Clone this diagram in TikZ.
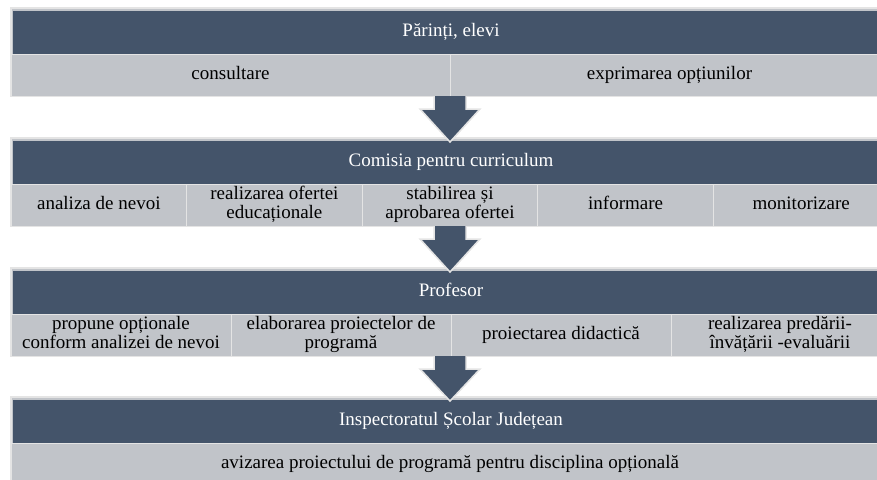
\documentclass[tikz,border=0pt]{standalone}
\usepackage{fontspec}
\newfontfamily\tnr{LiberationSerif}[Extension=.ttf, UprightFont=*-Regular]
\usetikzlibrary{calc}
\definecolor{dark}{HTML}{44546A}
\definecolor{lite}{HTML}{C1C4C9}
\definecolor{edge}{HTML}{E4E4E4}
\begin{document}
\begin{tikzpicture}[x=1pt,y=-1pt,
  every node/.style={inner sep=0pt, outer sep=0pt, font=\tnr\fontsize{19}{19.5}\selectfont},
  rowbox/.style={draw=edge, line width=1.5pt, fill=lite, anchor=north west, minimum width=878pt, minimum height=88pt},
  headbox/.style={fill=dark, text=white, anchor=north west, minimum width=876pt, minimum height=43.5pt, execute at begin node=\strut},
  cellbox/.style={draw=edge, line width=1pt, fill=lite, anchor=north west, minimum height=41.5pt, align=center, execute at begin node=\strut}]
\tikzset{blockarrow/.style={fill=dark, draw=edge, line width=1.5pt, line join=miter}}
\useasboundingbox (0,0) rectangle (877,479);
% Row 1
\node[rowbox] (r1) at (11,8) {};
\node[headbox] (h1) at (13,11) {Părinți, elevi};
\node[cellbox, minimum width=439pt] (c11) at (11,54.5) {consultare};
\node[cellbox, minimum width=439pt] (c12) at (450,54.5) {exprimarea opțiunilor};
% Row 2
\node[rowbox] (r2) at (11,138) {};
\node[headbox] (h2) at (13,141) {Comisia pentru curriculum};
\node[cellbox, minimum width=175.6pt] (c21) at (11,184.5) {analiza de nevoi};
\node[cellbox, minimum width=175.6pt] (c22) at (186.6,184.5) {realizarea ofertei\\educaționale\strut};
\node[cellbox, minimum width=175.6pt] (c23) at (362.2,184.5) {stabilirea și\\aprobarea ofertei\strut};
\node[cellbox, minimum width=175.6pt] (c24) at (537.8,184.5) {informare};
\node[cellbox, minimum width=175.6pt] (c25) at (713.4,184.5) {monitorizare};
% Row 3
\node[rowbox] (r3) at (11,268) {};
\node[headbox] (h3) at (13,271) {Profesor};
\node[cellbox, minimum width=220pt] (c31) at (11,314.5) {propune opționale\\conform analizei de nevoi\strut};
\node[cellbox, minimum width=220pt] (c32) at (231,314.5) {elaborarea proiectelor de\\programă\strut};
\node[cellbox, minimum width=220pt] (c33) at (451,314.5) {proiectarea didactică};
\node[cellbox, minimum width=218pt] (c34) at (671,314.5) {realizarea predării-\\învățării -evaluării\strut};
% Row 4
\node[rowbox] (r4) at (11,397) {};
\node[headbox] (h4) at (13,400) {Inspectoratul Școlar Județean};
\node[cellbox, minimum width=878pt] (c41) at (11,443.5) {avizarea proiectului de programă pentru disciplina opțională};
% Arrows
\draw[blockarrow] ($(r1.south)+(-16,0)$) -- ++(0,13) -- ++(-14,0) -- ($(r1.south |- h2.north)+(0,1)$) -- ($(r1.south)+(30,13)$) -- ++(-14,0) -- ++(0,-13);
\draw[blockarrow] ($(r2.south)+(-16,0)$) -- ++(0,13) -- ++(-14,0) -- ($(r2.south |- h3.north)+(0,1)$) -- ($(r2.south)+(30,13)$) -- ++(-14,0) -- ++(0,-13);
\draw[blockarrow] ($(r3.south)+(-16,0)$) -- ++(0,13) -- ++(-14,0) -- ($(r3.south |- h4.north)+(0,1)$) -- ($(r3.south)+(30,13)$) -- ++(-14,0) -- ++(0,-13);
\end{tikzpicture}
\end{document}
